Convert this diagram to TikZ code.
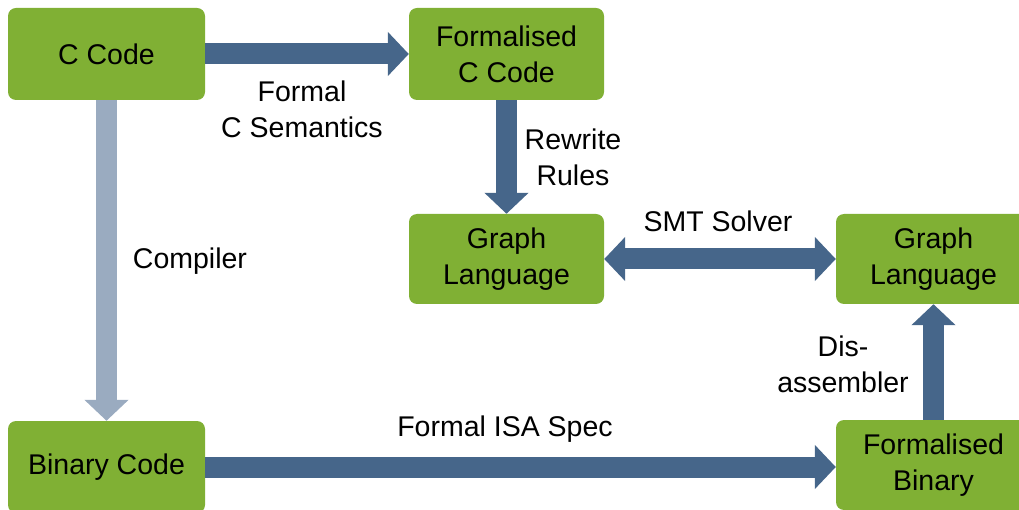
\documentclass[tikz,border=0pt]{standalone}
\usepackage{fontspec}
\setmainfont{Liberation Sans}
\usetikzlibrary{arrows.meta}
\definecolor{boxgreen}{HTML}{80B034}
\definecolor{arrowblue}{HTML}{46668A}
\definecolor{lightblue}{HTML}{9AABC0}
\begin{document}
\begin{tikzpicture}[x=1pt,y=1pt,
  box/.style={fill=boxgreen, rounded corners=8pt, align=center, inner sep=0pt,
    font=\fontsize{28.5}{36}\selectfont, text=black},
  flow/.style={draw=arrowblue, line width=21pt, -{Triangle[width=43pt,length=21pt]}},
  flowboth/.style={draw=arrowblue, line width=21pt, {Triangle[width=43pt,length=21pt]}-{Triangle[width=43pt,length=21pt]}},
  lightflow/.style={draw=lightblue, line width=21pt, -{Triangle[width=43pt,length=21pt]}},
  lbl/.style={align=center, inner sep=0pt, font=\fontsize{28.5}{36}\selectfont}]
\useasboundingbox (0,0) rectangle (1019,-510);
\clip (0,0) rectangle (1019,-510);
\node[box, minimum width=197pt, minimum height=92pt] (cc) at (106.5,-54) {C Code};
\node[box, minimum width=195pt, minimum height=92pt] (fcc) at (506.5,-54) {Formalised\\C Code};
\node[box, minimum width=195pt, minimum height=90pt] (gl) at (506.5,-259) {Graph\\Language};
\node[box, minimum width=195pt, minimum height=90pt] (gr) at (933.5,-259) {Graph\\Language};
\node[box, minimum width=197pt, minimum height=92pt] (bc) at (106.5,-467) {Binary Code};
\node[box, minimum width=195pt, minimum height=90pt] (fb) at (933.5,-465) {Formalised\\Binary};

\draw[flow] (cc.east) -- (fcc.west);
\draw[lightflow] (cc.south) -- (bc.north);
\draw[flow] (fcc.south) -- (gl.north);
\draw[flowboth] (gl.east) -- (gr.west);
\draw[flow] (bc.east) -- (bc.east -| fb.west);
\draw[flow] (fb.north) -- (gr.south);

\node[lbl] (l1) at (302,-109) {Formal\\C Semantics};
\node[lbl] (l2) at (573,-157) {Rewrite\\Rules};
\node[lbl] (l3) at (718,-221) {SMT Solver};
\node[lbl] (l4) at (190,-261) {Compiler};
\node[lbl] (l5) at (843,-364) {Dis-\\assembler};
\node[lbl] (l6) at (505,-429) {Formal ISA Spec};
\end{tikzpicture}
\end{document}
